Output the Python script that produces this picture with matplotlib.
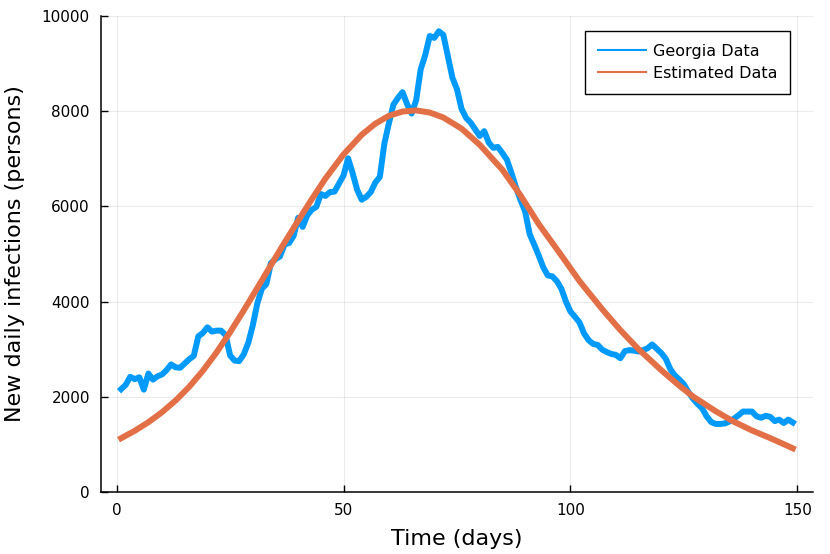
import matplotlib
matplotlib.use('Agg')
import matplotlib.pyplot as plt

# Georgia daily new infections (days 1..149)
days = list(range(1, 150))
georgia = [
    2160, 2250, 2420, 2370, 2410, 2150, 2490, 2360, 2430, 2470,
    2560, 2680, 2620, 2610, 2700, 2790, 2860, 3270, 3340, 3460,
    3370, 3390, 3390, 3300, 2870, 2760, 2750, 2890, 3130, 3500,
    3960, 4270, 4370, 4810, 4890, 4950, 5200, 5230, 5380, 5760,
    5570, 5810, 5930, 5990, 6260, 6220, 6300, 6310, 6480, 6650,
    7010, 6700, 6350, 6140, 6200, 6300, 6500, 6620, 7320, 7750,
    8140, 8280, 8400, 8150, 7950, 8230, 8880, 9180, 9580, 9540,
    9680, 9600, 9150, 8700, 8460, 8050, 7860, 7760, 7620, 7480,
    7580, 7340, 7230, 7250, 7120, 6980, 6700, 6400, 6130, 5900,
    5420, 5200, 4970, 4720, 4550, 4530, 4430, 4270, 4000, 3790,
    3680, 3560, 3330, 3190, 3110, 3090, 2990, 2940, 2900, 2880,
    2810, 2960, 2980, 2970, 2950, 2980, 3020, 3100, 3010, 2920,
    2800, 2580, 2450, 2360, 2260, 2100, 1960, 1850, 1760, 1590,
    1470, 1430, 1430, 1440, 1480, 1540, 1610, 1690, 1690, 1690,
    1590, 1560, 1600, 1580, 1490, 1520, 1450, 1520, 1460,
]

# Estimated (model) curve
est_days = [1, 4, 7, 10, 13, 16, 19, 22, 25, 28, 31, 34, 37, 40, 43, 46,
            50, 54, 57, 60, 63, 66, 69, 72, 76, 80, 85, 89, 93, 98, 102,
            107, 111, 115, 120, 124, 127, 132, 136, 140, 144, 149]
estimated = [1130, 1286, 1466, 1676, 1922, 2210, 2546, 2930, 3356, 3812,
             4286, 4766, 5240, 5699, 6149, 6584, 7092, 7504, 7738, 7903,
             7993, 8017, 7972, 7867, 7635, 7295, 6770, 6230, 5630, 4970,
             4430, 3840, 3400, 3000, 2560, 2232, 2007, 1697, 1477, 1293,
             1133, 918]

xticks = [0, 50, 100, 150]
yticks = [0, 2000, 4000, 6000, 8000, 10000]

fig = plt.figure(figsize=(8.3, 5.54), dpi=100)
ax = fig.add_axes([101/830, 1 - 492/554, 712/830, 476/554])

ax.plot(days, georgia, color='#009AFA', lw=4.3, label='Georgia Data',
        solid_joinstyle='round')
ax.plot(est_days, estimated, color='#E26F46', lw=4.3, label='Estimated Data',
        solid_joinstyle='round')

ax.set_xlim(-3.44, 153.44)
ax.set_ylim(0, 10000)
ax.set_xticks(xticks)
ax.set_yticks(yticks)
ax.tick_params(direction='in', length=5, width=1, labelsize=11, pad=8)
ax.grid(True, color='black', alpha=0.08, lw=0.8)

for side in ['top', 'right']:
    ax.spines[side].set_visible(False)
for side in ['left', 'bottom']:
    ax.spines[side].set_linewidth(1.1)

ax.set_xlabel('Time (days)', fontsize=16)
ax.set_ylabel('New daily infections (persons)', fontsize=16, va='center')
ax.xaxis.set_label_coords(0.5, -0.078)
ax.yaxis.set_label_coords(-0.121, 0.5)

leg = ax.legend(loc='upper right', bbox_to_anchor=(0.9677, 0.9685),
                borderaxespad=0, fontsize=11.5, fancybox=False,
                edgecolor='black', framealpha=1, handlelength=3.0,
                handletextpad=0.45, borderpad=0.8, labelspacing=0.45)
leg.get_frame().set_linewidth(1.0)
for line in leg.get_lines():
    line.set_linewidth(1.5)

fig.savefig('out.png', dpi=100)
